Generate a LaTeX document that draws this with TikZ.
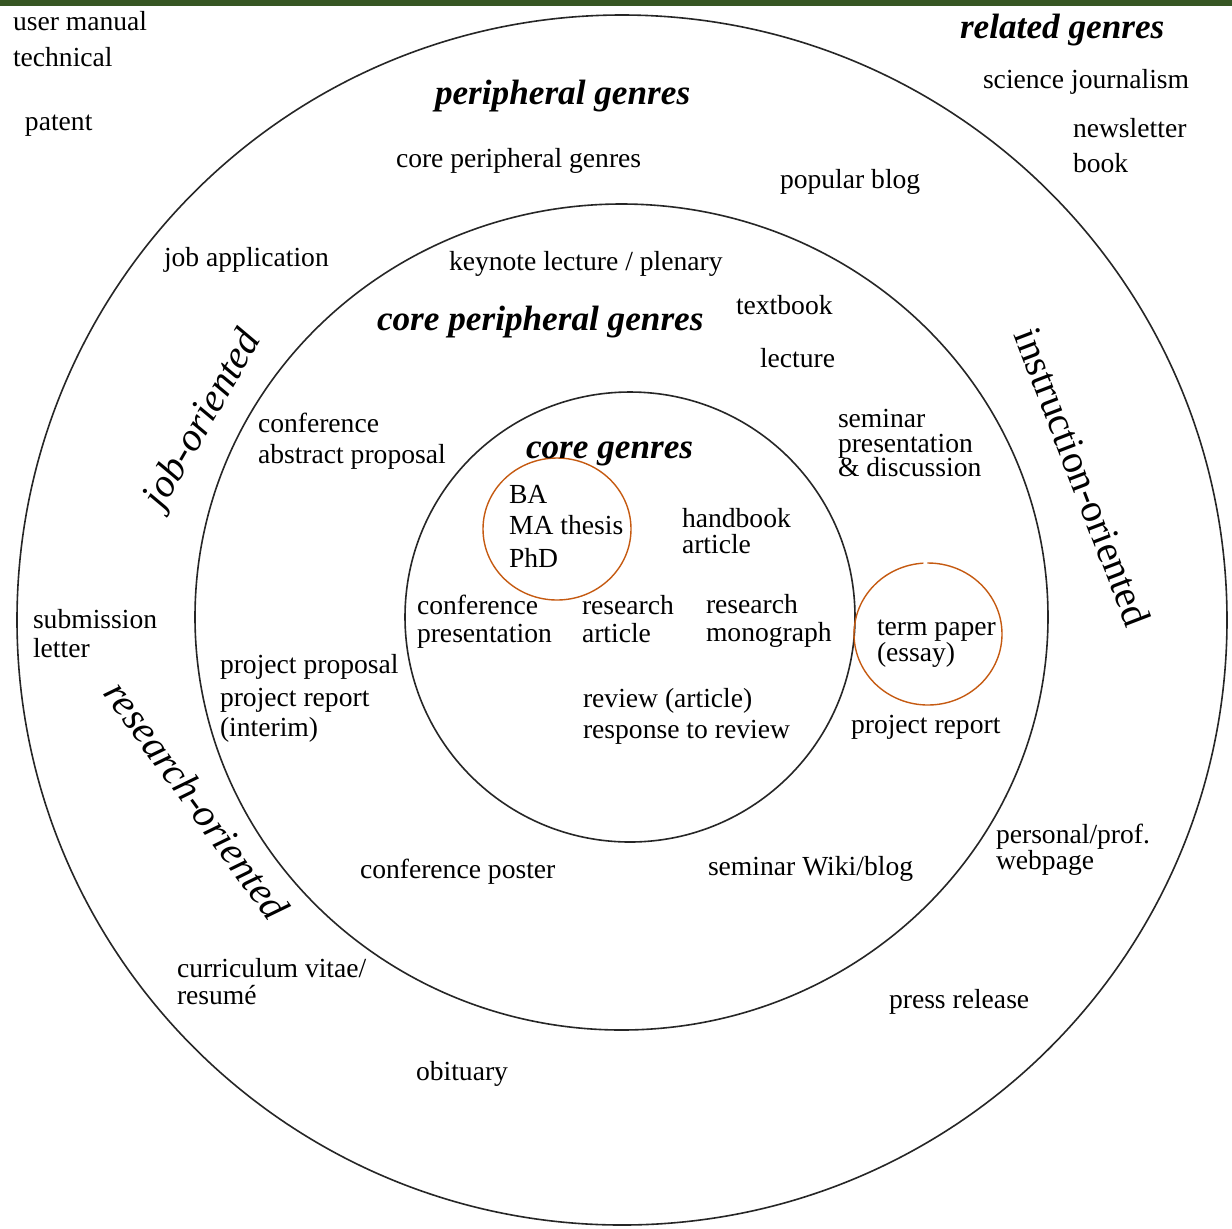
\documentclass[tikz,border=0pt]{standalone}
\usepackage{fontspec}
\setmainfont{Liberation Serif}
\definecolor{bargreen}{HTML}{375623}
\definecolor{ringorange}{HTML}{C55A11}
\begin{document}
\begin{tikzpicture}[x=0.5pt,y=-0.5pt,
  lbl/.style={font=\fontsize{13.8}{16}\selectfont, anchor=base west, inner sep=0pt, outer sep=0pt},
  head/.style={font=\fontsize{17.6}{20}\selectfont\bfseries\itshape, anchor=base west, inner sep=0pt, outer sep=0pt},
  orient/.style={font=\fontsize{20}{24}\selectfont\itshape, inner sep=0pt},
  orientup/.style={font=\fontsize{20}{24}\selectfont, inner sep=0pt},
  ring/.style={draw=black!85, line width=0.8pt},
  hilite/.style={draw=ringorange, line width=0.7pt}]
\fill[white] (0,0) rectangle (1232,1228);
\useasboundingbox (0,0) rectangle (1232,1228);
\fill[bargreen] (0,0) rectangle (1232,6);

% rings
\draw[ring] (622,620) circle[radius=605];
\draw[ring] (621.5,617) ellipse[x radius=426.5, y radius=413];
\draw[ring] (630,617) circle[radius=225];
\draw[hilite] (557,529) ellipse[x radius=74, y radius=71];
\draw[hilite] (928,634) ++(269.5:74 and 71) arc[start angle=269.5, end angle=626.4, x radius=74, y radius=71];

% related genres (outer ring)
\node[lbl] (usermanual) at (13,30) {user manual};
\node[lbl] (technical) at (13,66) {technical};
\node[lbl] (patent) at (25,130) {patent};
\node[head] (related) at (960,38) {related genres};
\node[lbl] (scijour) at (983,88) {science journalism};
\node[lbl] (newsletter) at (1073,137) {newsletter};
\node[lbl] (book) at (1073,172) {book};
\node[lbl] (submission) at (33,628) {submission};
\node[lbl] (letter) at (33,657) {letter};
\node[lbl] (personal) at (996,843) {personal/prof.};
\node[lbl] (webpage) at (996,869) {webpage};
\node[lbl] (cv) at (177,977) {curriculum vitae/};
\node[lbl] (resume) at (177,1004) {resumé};
\node[lbl] (press) at (889,1008) {press release};
\node[lbl] (obituary) at (416,1080) {obituary};

% peripheral genres
\node[head] (peripheral) at (435,104) {peripheral genres};
\node[lbl] (corepersmall) at (396,167) {core peripheral genres};
\node[lbl] (popblog) at (780,188) {popular blog};
\node[lbl] (jobapp) at (164,266) {job application};
\node[orient, rotate=60] (joborient) at (204,420) {job-oriented};
\node[orient, rotate=-54] (resorient) at (197,800) {research-oriented};
\node[orientup, rotate=-69] (instrorient) at (1083,477) {instruction-oriented};

% core peripheral genres
\node[lbl] (keynote) at (449,270) {keynote lecture / plenary};
\node[lbl] (textbook) at (736,314) {textbook};
\node[head] (coreper) at (377,330) {core peripheral genres};
\node[lbl] (lecture) at (760,367) {lecture};
\node[lbl] (seminar) at (838,427) {seminar};
\node[lbl] (presentation) at (838,452) {presentation};
\node[lbl] (discussion) at (838,476) {\& discussion};
\node[lbl] (conf) at (258,432) {conference};
\node[lbl] (abstract) at (258,463) {abstract proposal};
\node[lbl] (projprop) at (220,673) {project proposal};
\node[lbl] (projrepi) at (220,706) {project report};
\node[lbl] (interim) at (220,736) {(interim)};
\node[lbl] (projrep) at (851,733) {project report};
\node[lbl] (poster) at (360,878) {conference poster};
\node[lbl] (wiki) at (708,875) {seminar Wiki/blog};

% core genres
\node[head] (core) at (526,458) {core genres};
\node[lbl] (ba) at (509,503) {BA};
\node[lbl] (ma) at (509,534) {MA thesis};
\node[lbl] (phd) at (509,567) {PhD};
\node[lbl] (handbook) at (682,527) {handbook};
\node[lbl] (hbarticle) at (682,553) {article};
\node[lbl] (confpres) at (417,614) {conference};
\node[lbl] (confpres2) at (417,642) {presentation};
\node[lbl] (resart) at (582,614) {research};
\node[lbl] (resart2) at (582,642) {article};
\node[lbl] (resmono) at (706,613) {research};
\node[lbl] (resmono2) at (706,641) {monograph};
\node[lbl] (term) at (877,635) {term paper};
\node[lbl] (essay) at (877,661) {(essay)};
\node[lbl] (review) at (583,707) {review (article)};
\node[lbl] (response) at (583,738) {response to review};
\end{tikzpicture}
\end{document}
